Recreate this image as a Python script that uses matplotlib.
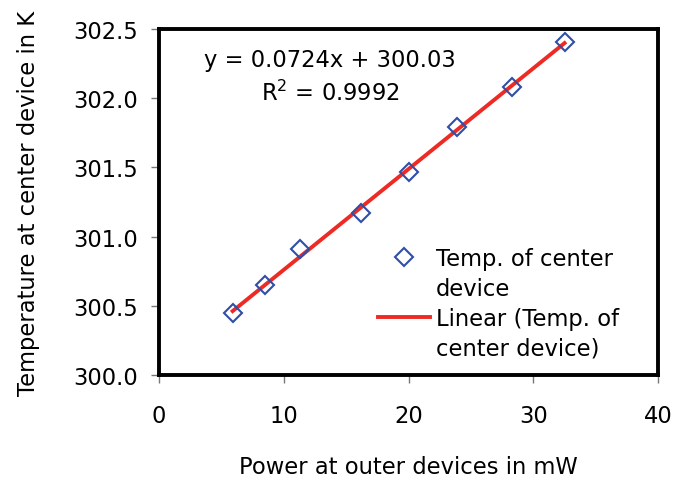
import numpy as np
import matplotlib
matplotlib.use("Agg")
import matplotlib.pyplot as plt
from matplotlib.lines import Line2D

power_mw = [5.9, 8.5, 11.3, 16.2, 20.0, 23.9, 28.25, 32.5]
temp_k = [300.45, 300.65, 300.91, 301.17, 301.47, 301.79, 302.08, 302.41]
x_ticks = [0, 10, 20, 30, 40]
y_ticks = [300.0, 300.5, 301.0, 301.5, 302.0, 302.5]

FS = 16.3
plt.rcParams['font.family'] = 'DejaVu Sans'
fig = plt.figure(figsize=(6.75, 4.85), dpi=100)
ax = fig.add_axes([0.2356, 0.2247, 0.7394, 0.7133])

slope, intercept = np.polyfit(power_mw, temp_k, 1)
xf = np.array([min(power_mw), max(power_mw)])
ax.plot(xf, slope * xf + intercept, color='#ee2a24', lw=2.8, zorder=2)
ax.plot(power_mw, temp_k, linestyle='none', marker='D', ms=9.5,
        markerfacecolor='none', markeredgecolor='#2f4fa6', mew=1.5, zorder=3)

ax.set_xlim(0, 40)
ax.set_ylim(300.0, 302.5)
ax.set_xticks(x_ticks)
ax.set_yticks(y_ticks)
ax.set_xticklabels([str(t) for t in x_ticks])
ax.set_yticklabels([f"{t:.1f}" for t in y_ticks])
for s in ax.spines.values():
    s.set_linewidth(2.8)
    s.set_color('black')
ax.tick_params(axis='both', direction='out', length=6, width=1, color='#777777',
               labelsize=FS)
ax.tick_params(axis='y', pad=9)
ax.tick_params(axis='x', pad=15)

ax.set_xlabel('Power at outer devices in mW', fontsize=FS, labelpad=20)
ax.set_ylabel('Temperature at center device in K', fontsize=FS, labelpad=24)

ax.text(0.343, 0.913, 'y = 0.0724x + 300.03', transform=ax.transAxes,
        fontsize=FS, ha='center', va='center')
ax.text(0.343, 0.818, r'R$^{2}$ = 0.9992', transform=ax.transAxes,
        fontsize=FS, ha='center', va='center')

blank = Line2D([], [], linestyle='none')
handles = [Line2D([], [], linestyle='none', marker='D', ms=9.5, markerfacecolor='none',
                  markeredgecolor='#2f4fa6', mew=1.5),
           blank,
           Line2D([], [], color='#ee2a24', lw=2.8),
           blank]
labels = ['Temp. of center', 'device', 'Linear (Temp. of', 'center device)']
ax.legend(handles, labels, loc='upper left', bbox_to_anchor=(0.439, 0.370),
          frameon=False, fontsize=FS, handlelength=2.3, handletextpad=0.25,
          labelspacing=0.3, borderpad=0, borderaxespad=0)

fig.savefig('out.png', dpi=100)
